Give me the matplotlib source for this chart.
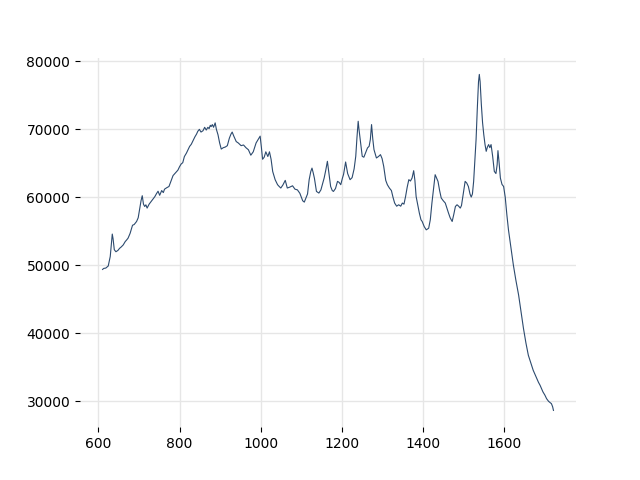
import matplotlib
matplotlib.use("Agg")
import matplotlib.pyplot as plt

# spectrum, ten points per row
wavenumber = [
    610, 613, 618, 624, 629, 632, 634, 636, 639, 643,
    648, 652, 656, 661, 666, 669, 673, 678, 684, 688,
    694, 698, 702, 705, 708, 711, 714, 717, 720, 725,
    730, 735, 739, 743, 747, 751, 756, 760, 763, 768,
    774, 779, 784, 790, 796, 800, 804, 808, 812, 817,
    821, 825, 829, 833, 838, 842, 845, 849, 853, 858,
    862, 866, 870, 873, 876, 878, 881, 884, 888, 891,
    895, 899, 903, 908, 913, 918, 923, 927, 930, 934,
    940, 945, 952, 958, 964, 970, 976, 982, 989, 994,
    999, 1002, 1005, 1009, 1013, 1018, 1022, 1026, 1030, 1036,
    1042, 1046, 1050, 1055, 1061, 1066, 1072, 1079, 1085, 1091,
    1097, 1104, 1108, 1112, 1116, 1120, 1124, 1127, 1130, 1133,
    1138, 1144, 1149, 1153, 1157, 1161, 1165, 1169, 1173, 1177,
    1180, 1185, 1190, 1194, 1198, 1202, 1205, 1210, 1215, 1221,
    1226, 1231, 1235, 1238, 1241, 1243, 1246, 1251, 1255, 1259,
    1264, 1268, 1271, 1274, 1277, 1280, 1286, 1291, 1296, 1300,
    1304, 1309, 1313, 1318, 1323, 1327, 1331, 1336, 1341, 1346,
    1350, 1354, 1358, 1362, 1366, 1370, 1374, 1378, 1381, 1384,
    1388, 1392, 1396, 1399, 1404, 1409, 1415, 1419, 1423, 1427,
    1431, 1434, 1438, 1442, 1446, 1451, 1456, 1460, 1464, 1468,
    1473, 1477, 1481, 1485, 1489, 1493, 1496, 1500, 1505, 1509,
    1513, 1517, 1520, 1523, 1526, 1529, 1532, 1535, 1538, 1540,
    1542, 1545, 1548, 1551, 1554, 1557, 1560, 1563, 1566, 1569,
    1573, 1577, 1581, 1584, 1586, 1589, 1592, 1596, 1600, 1604,
    1608, 1612, 1616, 1620, 1624, 1630, 1637, 1643, 1649, 1655,
    1661, 1667, 1673, 1680, 1686, 1690, 1697, 1702, 1706, 1711,
    1715, 1718, 1721, 1723,
]
intensity = [
    49400, 49550, 49600, 49900, 51300, 53200, 54600, 53900, 52300, 52000,
    52200, 52500, 52700, 53000, 53500, 53700, 54000, 54700, 55900, 56000,
    56450, 57000, 58400, 59500, 60240, 59000, 58660, 58900, 58420, 59000,
    59400, 59800, 60100, 60530, 60900, 60300, 61000, 60700, 61200, 61400,
    61600, 62400, 63200, 63600, 64000, 64500, 64900, 65100, 66000, 66500,
    67000, 67500, 67800, 68300, 68900, 69300, 69700, 70000, 69600, 69800,
    70300, 69900, 70300, 70100, 70600, 70400, 70700, 70300, 70950, 70000,
    69200, 68000, 67100, 67300, 67400, 67600, 68700, 69300, 69600, 69000,
    68200, 68000, 67600, 67700, 67300, 67000, 66200, 66700, 68000, 68500,
    69000, 67400, 65600, 65900, 66700, 66000, 66700, 65600, 63800, 62600,
    61860, 61600, 61370, 61800, 62500, 61370, 61500, 61700, 61200, 61100,
    60600, 59500, 59300, 59900, 60500, 62600, 63800, 64300, 63600, 62800,
    60870, 60630, 61100, 62000, 62840, 64000, 65300, 63500, 61600, 61000,
    60870, 61300, 62350, 62200, 61860, 62800, 63400, 65200, 63500, 62600,
    62900, 64200, 66030, 68800, 71190, 70000, 68500, 66030, 65900, 66500,
    67270, 67510, 68500, 70700, 68600, 67020, 65790, 66000, 66280, 65700,
    64560, 62500, 61860, 61370, 61000, 60000, 59160, 58700, 58910, 58700,
    59160, 59000, 60130, 61500, 62600, 62400, 62840, 63920, 62500, 60130,
    58900, 57680, 56700, 56450, 55700, 55220, 55460, 56700, 59160, 61300,
    63330, 62900, 62350, 61000, 59900, 59500, 59160, 58400, 57680, 57000,
    56450, 57500, 58660, 58910, 58700, 58420, 58800, 60400, 62350, 62100,
    61600, 60500, 60040, 60500, 62350, 65550, 68500, 73000, 77000, 78080,
    77000, 73660, 71000, 69230, 67800, 66770, 67400, 67760, 67300, 67760,
    66000, 63820, 63500, 64800, 66870, 65000, 62840, 61900, 61600, 60000,
    57430, 55200, 53500, 51900, 50060, 47900, 45630, 43200, 40720, 38600,
    36780, 35700, 34570, 33600, 32800, 32360, 31400, 30900, 30400, 30000,
    29800, 29660, 29200, 28670,
]

fig, ax = plt.subplots(figsize=(6.4, 4.8), dpi=100)
ax.plot(wavenumber, intensity, color="#2c4a6e", linewidth=0.8)

ax.grid(True, color="#e6e6e6", linewidth=1.0)
ax.set_axisbelow(True)
for side in ["top", "right", "left", "bottom"]:
    ax.spines[side].set_visible(False)

ax.set_xticks([600, 800, 1000, 1200, 1400, 1600])
ax.set_yticks([30000, 40000, 50000, 60000, 70000, 80000])

fig.savefig("out.png", dpi=100)
